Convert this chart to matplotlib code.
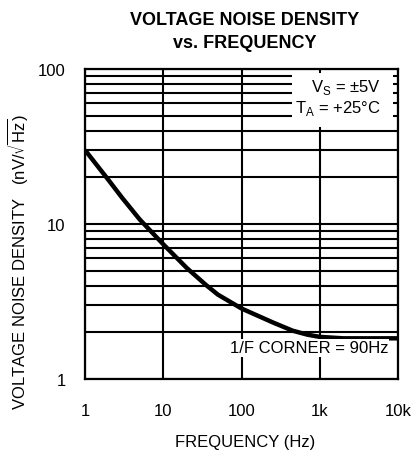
import matplotlib
matplotlib.use("Agg")
import matplotlib.pyplot as plt
from matplotlib.ticker import FixedLocator, NullFormatter, FixedFormatter
from matplotlib.patches import Rectangle

plt.rcParams['font.family'] = ['Liberation Sans', 'DejaVu Sans']

freq_hz = [1, 2, 3, 5, 10, 20, 35, 50, 100, 250, 450, 700, 1000, 2000, 10000]
noise_nv = [30.0, 19.2, 14.7, 10.7, 7.4, 5.2, 4.05, 3.5, 2.85, 2.32, 2.05, 1.93, 1.87, 1.83, 1.83]

x_ticks = [1, 10, 100, 1000, 10000]
x_labels = ["1", "10", "100", "1k", "10k"]
y_ticks = [1, 10, 100]
y_labels = ["1", "10", "100"]
y_minor = [m * d for d in (1, 10) for m in range(2, 10)]

W, H = 418, 460
fig = plt.figure(figsize=(W/100, H/100), dpi=100)
ax = fig.add_axes([85/W, 1-380/H, 313/W, 310/H])
ax.set_xscale('log')
ax.set_yscale('log')
ax.set_xlim(1, 10000)
ax.set_ylim(1, 100)

ax.xaxis.set_major_locator(FixedLocator(x_ticks))
ax.xaxis.set_major_formatter(FixedFormatter(x_labels))
ax.xaxis.set_minor_locator(FixedLocator([]))
ax.yaxis.set_major_locator(FixedLocator(y_ticks))
ax.yaxis.set_major_formatter(FixedFormatter(y_labels))
ax.yaxis.set_minor_locator(FixedLocator(y_minor))
ax.yaxis.set_minor_formatter(NullFormatter())

ax.grid(True, which='major', axis='both', color='black', lw=1.5)
ax.grid(True, which='minor', axis='y', color='black', lw=1.5)
ax.tick_params(which='both', length=0, labelsize=12)
ax.tick_params(axis='x', pad=17)
ax.tick_params(axis='y', pad=14)
for s in ax.spines.values():
    s.set_linewidth(1.6)

ax.plot(freq_hz, noise_nv, color='black', lw=3.2, solid_capstyle='butt',
        solid_joinstyle='round', zorder=5)

# white background behind the conditions label
ax.add_patch(Rectangle(((292-85)/313, (380-128)/310), (393-292)/313, (128-74)/310,
                       transform=ax.transAxes, facecolor='white', edgecolor='none', zorder=4))
ax.text((381-85)/313, (380-98)/310, "V$_\\mathregular{S}$ = ±5V\nT$_\\mathregular{A}$ = +25°C",
        transform=ax.transAxes, ha='right', va='center', fontsize=12, linespacing=1.2, zorder=6)
ax.text((388-85)/313, (380-349)/310, "1/F CORNER = 90Hz", transform=ax.transAxes,
        ha='right', va='center', fontsize=12,
        bbox=dict(facecolor='white', edgecolor='none', pad=1), zorder=6)

fig.text(245/W, 1-32/H, "VOLTAGE NOISE DENSITY\nvs. FREQUENCY", ha='center', va='center',
         fontsize=13, fontweight='bold', linespacing=1.4)
fig.text(245/W, 1-443/H, "FREQUENCY (Hz)", ha='center', va='center', fontsize=12)
fig.text(18/W, 1-262/H, "VOLTAGE NOISE DENSITY   (nV/$\\mathregular{\\sqrt{Hz}}$)", rotation=90,
         ha='center', va='center', fontsize=12)

fig.savefig("out.png", dpi=100)
